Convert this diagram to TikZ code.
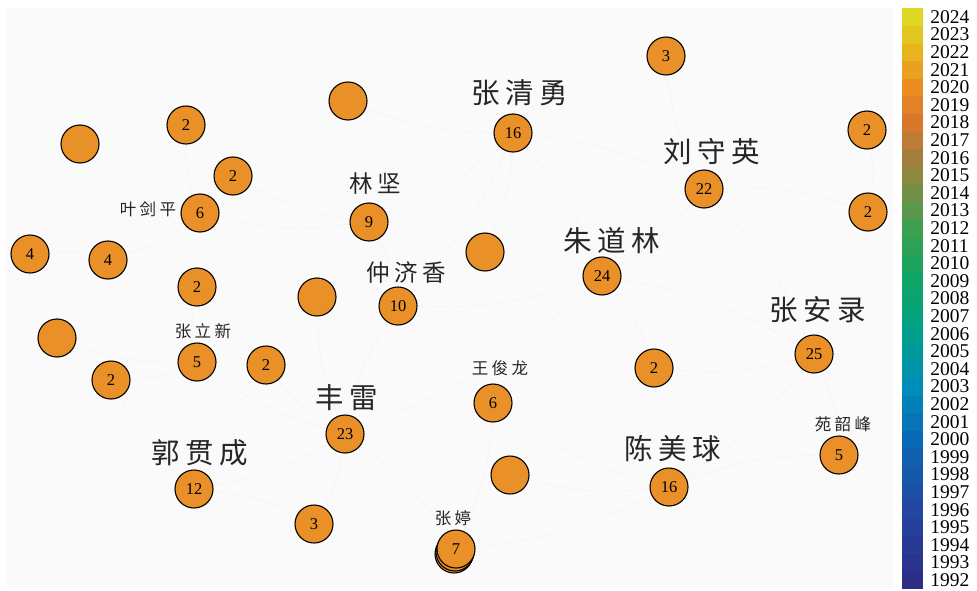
\documentclass[tikz,border=0pt]{standalone}
\usepackage{fontspec}
\setmainfont{Liberation Serif}
\newfontfamily\cjk[LetterSpace=20]{Noto Sans CJK SC}
\usepackage{tikz}
\usetikzlibrary{positioning}
\usetikzlibrary{backgrounds}

\definecolor{nodo}{RGB}{233,145,40}
\definecolor{fondo}{RGB}{250,250,250}

\begin{document}
\begin{tikzpicture}[x=1pt, y=-1pt,
    autor/.style={draw, circle, fill=nodo, line width=1.1pt, minimum size=38pt, inner sep=0pt, font=\fontsize{16.5}{16.5}\selectfont},
    grande/.style={font=\cjk\fontsize{28.5}{28.5}\selectfont, text=black!85, inner sep=0pt},
    medio/.style={font=\cjk\fontsize{23.5}{23.5}\selectfont, text=black!85, inner sep=0pt},
    chico/.style={font=\cjk\fontsize{16.5}{16.5}\selectfont, text=black!85, inner sep=0pt},
    arista/.style={draw=black!4, line width=0.8pt, bend left=10},
    caja/.style={fill=#1, minimum width=21pt, minimum height=17.9pt, inner sep=0pt},
    anio/.style={font=\fontsize{19.5}{19.5}\selectfont, inner sep=0pt}]
  \useasboundingbox (0,0) rectangle (977,591);

  % Nodos con nombre
  \node[autor] (zqy) at (513,133) {16};
  \node[autor] (lsy) at (704,189) {22};
  \node[autor] (zdl) at (602,276) {24};
  \node[autor] (zal) at (814,354) {25};
  \node[autor] (cmq) at (669,487) {16};
  \node[autor] (fl) at (345,434) {23};
  \node[autor] (ggc) at (194,489) {12};
  \node[autor] (lj) at (369,222) {9};
  \node[autor] (zjx) at (398,306) {10};
  \node[autor] (yjp) at (200,213) {6};
  \node[autor] (zlx) at (197,362) {5};
  \node[autor] (wjl) at (493,403) {6};
  \node[autor] (ysf) at (839,455) {5};
  \node[autor] (zt2) at (454,554) {};
  \node[autor] (zt1) at (455,552) {};
  \node[autor] (zt) at (456,549) {7};

  % Nodos sin nombre
  \node[autor] (n1) at (666,56) {3};
  \node[autor] (n2) at (348,101) {};
  \node[autor] (n3) at (186,125) {2};
  \node[autor] (n4) at (80,144) {};
  \node[autor] (n5) at (867,130) {2};
  \node[autor] (n6) at (233,176) {2};
  \node[autor] (n7) at (868,212) {2};
  \node[autor] (n8) at (30,254) {4};
  \node[autor] (n9) at (108,260) {4};
  \node[autor] (n10) at (485,252) {};
  \node[autor] (n11) at (197,287) {2};
  \node[autor] (n12) at (317,297) {};
  \node[autor] (n13) at (57,338) {};
  \node[autor] (n14) at (266,365) {2};
  \node[autor] (n15) at (654,368) {2};
  \node[autor] (n16) at (111,380) {2};
  \node[autor] (n17) at (510,475) {};
  \node[autor] (n18) at (314,524) {3};

  % Etiquetas
  \node[grande] (zqyl) at (520,93) {张清勇};
  \node[grande] (lsyl) at (712,152) {刘守英};
  \node[grande] (zdll) at (612,241) {朱道林};
  \node[grande] (zall) at (818,310) {张安录};
  \node[grande] (cmql) at (673,449) {陈美球};
  \node[grande] (fll) at (347,398) {丰雷};
  \node[grande] (ggcl) at (200,453) {郭贯成};
  \node[medio] (ljl) at (375,184) {林坚};
  \node[medio] (zjxl) at (406,273) {仲济香};
  \node[chico] (yjpl) at (148,209) {叶剑平};
  \node[chico] (zlxl) at (203,331) {张立新};
  \node[chico] (wjll) at (500,368) {王俊龙};
  \node[chico] (ysfl) at (843,424) {苑韶峰};
  \node[chico] (ztl) at (453,518) {张婷};

  % Barra de colores
  \foreach \yy/\rojo/\verde/\azul [count=\k from 0] in {
      1992/45/45/135, 1993/42/51/141, 1994/40/58/148, 1995/37/64/154,
      1996/35/70/160, 1997/29/79/165, 1998/22/88/170, 1999/16/96/175,
      2000/10/105/180, 2001/7/117/182, 2002/3/128/183, 2003/0/140/185,
      2004/0/147/170, 2005/0/153/155, 2006/0/160/140, 2007/5/162/127,
      2008/10/163/113, 2009/15/165/100, 2010/30/163/93, 2011/45/162/87,
      2012/60/160/80, 2013/88/153/75, 2014/115/145/70, 2015/140/135/65,
      2016/165/125/60, 2017/190/123/53, 2018/215/120/45, 2019/225/130/40,
      2020/235/140/35, 2021/234/160/33, 2022/232/180/30, 2023/227/198/33,
      2024/222/215/35} {
    \definecolor{c\yy}{RGB}{\rojo,\verde,\azul}
    \node[caja=c\yy] (s\yy) at (912.5,{580.2-17.6*\k}) {};
    \node[anio, right=7pt of s\yy] (a\yy) {\yy};
  }

  % Aristas
  \begin{scope}[on background layer]
    \fill[fondo] (7,8) rectangle (893,588);
    \draw[arista] (zqy) to (zdl);
    \draw[arista] (zqy) to (lj);
    \draw[arista] (zqy) to (zjx);
    \draw[arista] (zqy) to (n10);
    \draw[arista] (zqy) to (lsy);
    \draw[arista] (zqy) to (n2);
    \draw[arista] (lsy) to (zdl);
    \draw[arista] (lsy) to (zal);
    \draw[arista] (lsy) to (n7);
    \draw[arista] (lsy) to (n1);
    \draw[arista] (zdl) to (zal);
    \draw[arista] (zdl) to (zjx);
    \draw[arista] (zdl) to (wjl);
    \draw[arista] (zdl) to (fl);
    \draw[arista] (zdl) to (n15);
    \draw[arista] (zal) to (cmq);
    \draw[arista] (zal) to (ysf);
    \draw[arista] (zal) to (n15);
    \draw[arista] (cmq) to (zt);
    \draw[arista] (cmq) to (ysf);
    \draw[arista] (cmq) to (wjl);
    \draw[arista] (cmq) to (n17);
    \draw[arista] (fl) to (ggc);
    \draw[arista] (fl) to (zjx);
    \draw[arista] (fl) to (zlx);
    \draw[arista] (fl) to (n18);
    \draw[arista] (fl) to (zt);
    \draw[arista] (fl) to (n12);
    \draw[arista] (fl) to (n14);
    \draw[arista] (lj) to (yjp);
    \draw[arista] (lj) to (zjx);
    \draw[arista] (lj) to (n6);
    \draw[arista] (yjp) to (n6);
    \draw[arista] (yjp) to (n9);
    \draw[arista] (yjp) to (n3);
    \draw[arista] (zlx) to (n16);
    \draw[arista] (zlx) to (n11);
    \draw[arista] (zlx) to (n13);
    \draw[arista] (ggc) to (n18);
    \draw[arista] (ggc) to (n16);
    \draw[arista] (n8) to (n9);
    \draw[arista] (n5) to (n7);
    \draw[arista] (wjl) to (zt);
  \end{scope}
\end{tikzpicture}
\end{document}
